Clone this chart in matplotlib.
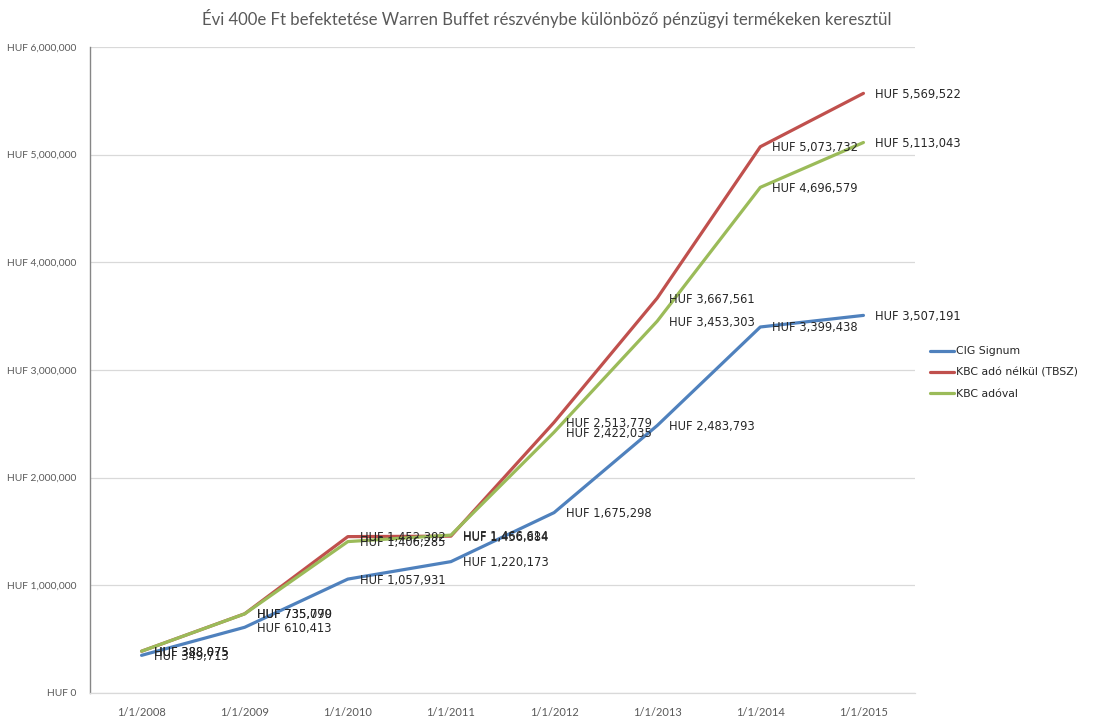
import matplotlib
matplotlib.use("Agg")
import matplotlib.pyplot as plt
from matplotlib.ticker import FuncFormatter, MultipleLocator

dates = ["1/1/2008", "1/1/2009", "1/1/2010", "1/1/2011",
         "1/1/2012", "1/1/2013", "1/1/2014", "1/1/2015"]
cig_signum = [349713, 610413, 1057931, 1220173, 1675298, 2483793, 3399438, 3507191]
kbc_tbsz = [388075, 735779, 1452392, 1456884, 2513779, 3667561, 5073732, 5569522]
kbc_adoval = [388075, 735090, 1406285, 1466614, 2422035, 3453303, 4696579, 5113043]
series_names = ["CIG Signum", "KBC adó nélkül (TBSZ)", "KBC adóval"]
title = "Évi 400e Ft befektetése Warren Buffet részvénybe különböző pénzügyi termékeken keresztül"

colors = ["#4F81BD", "#C0504D", "#9BBB59"]

fig = plt.figure(figsize=(10.94, 7.27), dpi=100)
ax = fig.add_axes([90/1094, 34/727, 825/1094, 646/727])

x = list(range(len(dates)))
lines = []
for vals, name, c in zip([cig_signum, kbc_tbsz, kbc_adoval], series_names, colors):
    ln, = ax.plot(x, vals, color=c, lw=2.3, label=name, solid_capstyle="round", zorder=3)
    lines.append(ln)
for vals in [cig_signum, kbc_tbsz, kbc_adoval]:
    for xi, v in zip(x, vals):
        ax.annotate(f"HUF {v:,}", (xi, v), xytext=(12, -1), textcoords="offset pixels",
                    ha="left", va="center", fontsize=8.3, color="#262626",
                    family="DejaVu Sans", zorder=4)

ax.set_xlim(-0.5, 7.5)
ax.set_ylim(0, 6000000)
ax.yaxis.set_major_locator(MultipleLocator(1000000))
ax.yaxis.set_major_formatter(FuncFormatter(lambda v, p: f"HUF {int(v):,}"))
ax.set_xticks(x)
ax.set_xticklabels(dates)
ax.grid(axis="y", color="#D9D9D9", lw=0.9, zorder=0)
for s in ["top", "right"]:
    ax.spines[s].set_visible(False)
ax.spines["left"].set_color("#868686")
ax.spines["left"].set_linewidth(1.0)
ax.spines["bottom"].set_color("#D9D9D9")
ax.spines["bottom"].set_linewidth(0.9)
ax.tick_params(axis="both", length=0, colors="#595959")
ax.tick_params(axis="y", pad=10)
ax.tick_params(axis="x", pad=10)
for lab in ax.get_yticklabels():
    lab.set_family("Lato"); lab.set_fontsize(7.4)
for lab in ax.get_xticklabels():
    lab.set_family("Lato"); lab.set_fontsize(8)

fig.text(547/1094, 1 - 18/727, title, ha="center", va="center",
         fontsize=12.1, color="#595959", family="Lato")

leg = fig.legend(handles=lines, loc="upper left", bbox_to_anchor=(926/1094, 1 - 342/727),
                 frameon=False, fontsize=7.8, handlelength=2.2, handletextpad=0.2,
                 labelspacing=1.05, borderaxespad=0)
for t in leg.get_texts():
    t.set_color("#262626")

fig.savefig("out.png", dpi=100)
